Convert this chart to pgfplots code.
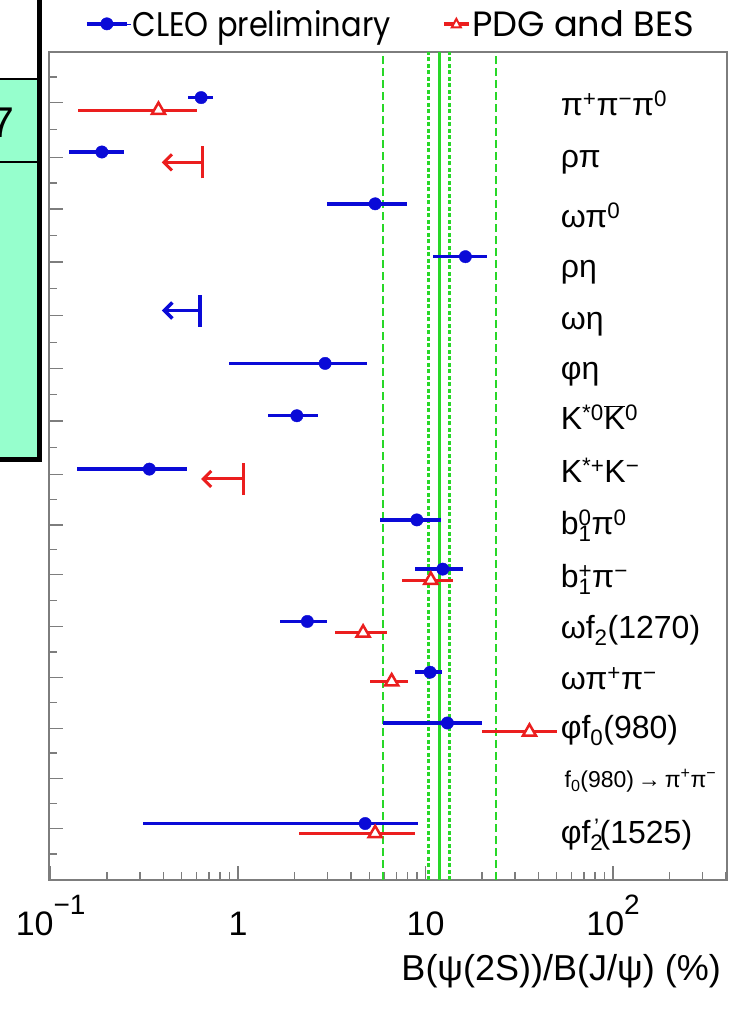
\documentclass[border=0pt]{standalone}
\usepackage{pgfplots}
\pgfplotsset{compat=1.18}
\usepackage{pgfplotstable}
\usepackage{graphicx}
\usetikzlibrary{arrows.meta}
\usepackage{fontspec}
\setmainfont{Liberation Sans}
\newfontfamily\legendfont{Poppins}

\definecolor{cleoblue}{RGB}{10,10,215}
\definecolor{pdgred}{RGB}{235,30,30}
\definecolor{rulegreen}{RGB}{40,215,40}
\definecolor{framegray}{RGB}{125,125,125}
\definecolor{mint}{RGB}{150,255,205}

\newcommand{\up}[1]{\textsuperscript{#1}}
\newcommand{\dn}[1]{\textsubscript{#1}}
\newcommand{\xp}[1]{\raisebox{21pt}{\fontsize{28}{28}\selectfont #1}}
\newcommand{\rowlab}[2]{\node[anchor=base west, inner sep=0pt, font=\fontsize{32}{32}\selectfont] at (axis cs:52.5,#1) {#2};}

% CLEO preliminary: row position, central value, lower and upper ends (%)
\pgfplotstableread{
y     x      lo     hi
15.10 0.635  0.541  0.735
14.05 0.1875 0.1255 0.2476
13.05 5.38   2.97   7.94
12.03 16.3   11.0   21.2
9.97  2.91   0.899  4.86
8.96  2.056  1.45   2.68
7.93  0.336  0.139  0.532
6.95  8.98   5.72   12.05
6.00  12.35  8.79   15.9
4.99  2.34   1.675  2.99
4.01  10.56  8.79   12.2
3.03  13.07  5.96   19.9
1.09  4.76   0.309  9.16
}\cleo

% PDG and BES
\pgfplotstableread{
y     x      lo     hi
14.86 0.376  0.140  0.602
5.79  10.66  7.47   13.96
4.77  4.64   3.29   6.21
3.83  6.59   5.06   8.09
2.86  35.8   19.9   50.1
0.90  5.38   2.10   8.79
}\pdg

\begin{document}
\begin{tikzpicture}
\path[use as bounding box] (0pt,0pt) rectangle (738pt,-1026pt);

% table cell at the left edge
\fill[mint] (0pt,-79pt) rectangle (39pt,-458pt);
\draw[line width=1.2pt] (0pt,-79pt) -- (39pt,-79pt);
\draw[line width=1.2pt] (0pt,-162pt) -- (39pt,-162pt);
\draw[line width=5pt] (39.5pt,0pt) -- (39.5pt,-462pt);
\draw[line width=5pt] (0pt,-459.5pt) -- (42pt,-459.5pt);
\node[anchor=base east, inner sep=0pt, font=\fontsize{43}{43}\selectfont] at (15pt,-137pt) {7};

\begin{axis}[
  at={(49pt,-880pt)}, anchor=south west,
  scale only axis, width=678pt, height=828pt,
  xmode=log, xmin=0.098, xmax=405,
  ymin=0, ymax=15.98,
  axis line style={framegray, line width=1.5pt},
  tick style={framegray, line width=1.3pt},
  tick align=inside,
  xtick pos=bottom, ytick pos=left,
  major tick length=14pt, minor tick length=8.5pt,
  xtick={0.1,1,10,100},
  minor xtick={0.2,0.3,0.4,0.5,0.6,0.7,0.8,0.9,2,3,4,5,6,7,8,9,20,30,40,50,60,70,80,90,200,300,400},
  xticklabels={10\xp{−1},1,10,10\xp{2}},
  xticklabel style={font=\fontsize{34}{34}\selectfont, anchor=base, yshift=-55pt},
  ytick={15.0,13.95,12.95,11.93,10.89,9.87,8.86,7.83,6.85,5.90,4.89,3.91,2.93,1.96,0.99},
  minor ytick={15.5,14.48,13.45,12.44,11.41,10.38,9.37,8.35,7.34,6.38,5.40,4.40,3.42,2.45,1.48,0.50},
  yticklabels={},
  xlabel={B(ψ(2S))/B(J/ψ) (\%)},
  xlabel style={at={(axis description cs:1,0)}, anchor=base east, inner sep=0pt,
    font=\fontsize{36}{36}\selectfont, xshift=-6pt, yshift=-100pt},
  legend columns=2, reverse legend,
  legend style={draw=none, fill=none, at={(axis description cs:0.053,1.034)}, anchor=west,
    font=\legendfont\fontsize{34}{34}\selectfont,
    /tikz/every even column/.append style={column sep=50pt},
    inner sep=0pt, nodes={inner sep=1.5pt}},
]

% 12% rule band
\addplot[forget plot, rulegreen, line width=1.5pt, dash pattern=on 8pt off 4pt] coordinates {(5.92,0) (5.92,15.98)};
\addplot[forget plot, rulegreen, line width=1.5pt, dash pattern=on 8pt off 4pt] coordinates {(23.7,0) (23.7,15.98)};
\addplot[forget plot, rulegreen, line width=3pt, dash pattern=on 4pt off 2.5pt] coordinates {(10.35,0) (10.35,15.98)};
\addplot[forget plot, rulegreen, line width=3pt, dash pattern=on 4pt off 2.5pt] coordinates {(13.35,0) (13.35,15.98)};
\addplot[forget plot, rulegreen, line width=3pt] coordinates {(11.85,0) (11.85,15.98)};

% PDG and BES upper limits
\addplot[forget plot, pdgred, line width=3pt, -{Straight Barb[length=8pt,width=16pt,line width=3pt]}] coordinates {(0.645,13.85) (0.392,13.85)};
\addplot[forget plot, pdgred, line width=3pt] coordinates {(0.645,13.54) (0.645,14.16)};
\addplot[forget plot, pdgred, line width=3pt, -{Straight Barb[length=8pt,width=16pt,line width=3pt]}] coordinates {(1.067,7.74) (0.635,7.74)};
\addplot[forget plot, pdgred, line width=3pt] coordinates {(1.067,7.43) (1.067,8.05)};

% CLEO upper limit
\addplot[forget plot, cleoblue, line width=3.5pt, -{Straight Barb[length=8pt,width=16pt,line width=3.5pt]}] coordinates {(0.627,10.99) (0.392,10.99)};
\addplot[forget plot, cleoblue, line width=3.5pt] coordinates {(0.627,10.68) (0.627,11.30)};

% PDG and BES measurements
\addplot[only marks, mark=triangle*, mark size=7.5pt, color=pdgred,
  mark options={fill=white, draw=pdgred, line width=2.5pt},
  legend image code/.code={
    \draw[pdgred, line width=3.5pt] (0pt,0pt) -- (25pt,0pt);
    \draw[pdgred, line width=2pt, fill=white] (12.5pt,5pt) -- (8pt,-3.5pt) -- (17pt,-3.5pt) -- cycle;},
  error bars/.cd, x dir=both, x explicit, error mark=none,
  error bar style={line width=3pt, pdgred}]
  table[x=x, y=y, x error plus expr=\thisrow{hi}-\thisrow{x}, x error minus expr=\thisrow{x}-\thisrow{lo}] {\pdg};
\addlegendentry{\resizebox{222pt}{26pt}{PDG and BES}}

% CLEO measurements
\addplot[only marks, mark=*, mark size=6.2pt, color=cleoblue,
  legend image code/.code={
    \draw[cleoblue, line width=3.5pt] (0pt,0pt) -- (40pt,0pt);
    \fill[cleoblue] (20pt,0pt) circle (6.2pt);
    \path (0pt,0pt) -- (44pt,0pt);},
  error bars/.cd, x dir=both, x explicit, error mark=none,
  error bar style={line width=3.5pt, cleoblue}]
  table[x=x, y=y, x error plus expr=\thisrow{hi}-\thisrow{x}, x error minus expr=\thisrow{x}-\thisrow{lo}] {\cleo};
\addlegendentry{\resizebox{258pt}{26pt}{CLEO preliminary}}

% decay mode labels
\rowlab{14.75}{π\up{+}π\up{−}π\up{0}}
\rowlab{13.76}{ρπ}
\rowlab{12.59}{ωπ\up{0}}
\rowlab{11.62}{ρη}
\rowlab{10.62}{ωη}
\rowlab{9.65}{φη}
\rowlab{8.69}{K\up{*0}$\overline{\hbox{K}}$\up{0}}
\rowlab{7.68}{K\up{*+}K\up{−}}
\rowlab{6.66}{b\rlap{\dn{1}}\up{0}π\up{0}}
\rowlab{5.64}{b\rlap{\dn{1}}\up{+}π\up{−}}
\rowlab{4.67}{ωf\dn{2}(1270)}
\rowlab{3.67}{ωπ\up{+}π\up{−}}
\rowlab{2.74}{φf\dn{0}(980)}
\node[anchor=base west, inner sep=0pt, font=\fontsize{23}{23}\selectfont] at (axis cs:55,1.78) {f\dn{0}(980)\,→\,π\up{+}π\up{−}};
\rowlab{0.71}{φf\rlap{\dn{2}}\up{\,'}(1525)}
\end{axis}
\end{tikzpicture}
\end{document}
